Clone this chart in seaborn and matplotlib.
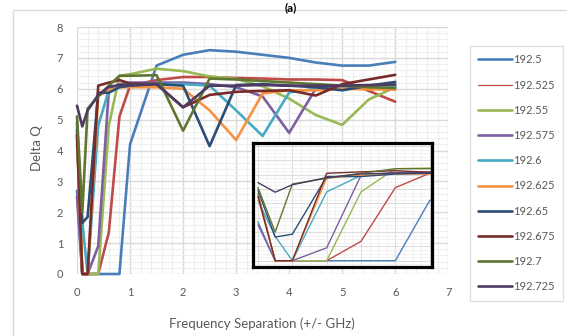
import numpy as np
import pandas as pd
import matplotlib
matplotlib.use("Agg")
import matplotlib.pyplot as plt
import seaborn as sns
from matplotlib.lines import Line2D
from matplotlib.patches import Rectangle
from matplotlib.ticker import MultipleLocator

# ---------------- data ----------------
sep = [0, 0.1, 0.2, 0.4, 0.6, 0.8, 1.0, 1.5, 2.0, 2.5, 3.0, 3.5, 4.0, 4.5, 5.0, 5.5, 6.0]
series_labels = ["192.5", "192.525", "192.55", "192.575", "192.6",
                 "192.625", "192.65", "192.675", "192.7", "192.725"]
q_192_5   = [2.7, 0, 0, 0, 0, 0, 4.2, 6.75, 7.1, 7.25, 7.2, 7.1, 7.0, 6.85, 6.75, 6.75, 6.87]
q_192_525 = [4.7, 0, 0, 0, 1.35, 5.1, 6.1, 6.28, 6.38, 6.38, 6.35, 6.33, 6.3, 6.3, 6.28, 5.93, 5.58]
q_192_55  = [4.6, 0, 0, 0, 4.8, 6.42, 6.47, 6.65, 6.57, 6.4, 6.32, 6.08, 5.68, 5.15, 4.83, 5.65, 6.05]
q_192_575 = [2.5, 0, 0, 0.9, 5.95, 6.15, 6.2, 6.2, 6.2, 6.15, 6.05, 5.75, 4.57, 6.0, 6.05, 6.05, 6.1]
q_192_6   = [4.2, 1.7, 0, 4.8, 5.95, 6.1, 6.15, 6.15, 6.15, 6.1, 5.3, 4.47, 5.88, 6.0, 6.0, 6.05, 6.05]
q_192_625 = [4.4, 0, 0, 5.77, 5.95, 6.05, 6.05, 6.05, 6.0, 5.3, 4.34, 5.85, 5.95, 5.95, 6.0, 5.98, 5.97]
q_192_65  = [4.9, 1.65, 1.85, 5.87, 5.87, 6.05, 6.1, 6.15, 6.1, 4.14, 6.12, 6.15, 6.1, 6.05, 5.95, 6.1, 6.22]
q_192_675 = [4.5, 0, 0, 6.1, 6.2, 6.28, 6.17, 6.15, 5.4, 5.8, 5.9, 5.93, 5.95, 5.78, 6.15, 6.3, 6.45]
q_192_7   = [5.1, 2.0, 5.35, 5.75, 6.1, 6.42, 6.42, 6.44, 4.64, 6.33, 6.3, 6.25, 6.2, 6.15, 6.1, 6.05, 6.02]
q_192_725 = [5.45, 4.78, 5.3, 5.8, 6.06, 6.12, 6.13, 6.15, 5.4, 6.1, 6.1, 6.12, 6.1, 6.1, 6.1, 6.12, 6.14]

series_values = [q_192_5, q_192_525, q_192_55, q_192_575, q_192_6,
                 q_192_625, q_192_65, q_192_675, q_192_7, q_192_725]
colors = ["#4A7EBB", "#BE4B48", "#98B954", "#7D60A0", "#46AAC5",
          "#F69240", "#2C4D75", "#772C2A", "#5F7530", "#4D3B62"]

x_ticks = [0, 1, 2, 3, 4, 5, 6, 7]
y_ticks = [0, 1, 2, 3, 4, 5, 6, 7, 8]

rows = []
for lab, vals in zip(series_labels, series_values):
    for xv, yv in zip(sep, vals):
        rows.append((lab, xv, yv))
df = pd.DataFrame(rows, columns=["series", "sep", "q"])

# ---------------- style ----------------
sns.set_style("white")
plt.rcParams['font.family'] = ['Lato', 'DejaVu Sans']
txt_col = "#595959"
W, H = 567, 336

fig = plt.figure(figsize=(W / 100, H / 100), dpi=100)

# outer chart-area border
fig.patches.append(Rectangle((13 / W, -0.2), 1.3, 1 - 10 / H + 0.2,
                             transform=fig.transFigure, fill=False,
                             ec="#d9d9d9", lw=1.0))

# title at the very top
fig.text(291 / W, 1 - 2 / H, "(a)", ha="center", va="top",
         fontsize=8.5, fontweight="bold", color="#000000")

# ---------------- main axes ----------------
L, R, T, B = 77, 448.3, 27, 274
ax = fig.add_axes([L / W, 1 - B / H, (R - L) / W, (B - T) / H])
sns.lineplot(data=df, x="sep", y="q", hue="series", hue_order=series_labels,
             palette=colors, estimator=None, sort=False, lw=1.9,
             ax=ax, legend=False)
for ln in ax.lines:
    ln.set_clip_on(False)
    ln.set_solid_joinstyle("round")

ax.set_xlim(0, 7)
ax.set_ylim(0, 8)
ax.set_xticks(x_ticks)
ax.set_yticks(y_ticks)
ax.xaxis.set_minor_locator(MultipleLocator(0.2))
ax.yaxis.set_minor_locator(MultipleLocator(0.2))
ax.grid(which="major", color="#d9d9d9", lw=1.0)
ax.grid(which="minor", color="#efefef", lw=0.8)
ax.set_axisbelow(True)
for s in ax.spines.values():
    s.set_visible(False)
ax.tick_params(which="both", length=0)
ax.tick_params(axis="x", pad=9, labelsize=8, labelcolor=txt_col)
ax.tick_params(axis="y", pad=10, labelsize=8, labelcolor=txt_col)
ax.set_xlabel("Frequency Separation (+/- GHz)", fontsize=9.5, color=txt_col)
ax.set_ylabel("Delta Q", fontsize=9.5, color=txt_col)
ax.xaxis.set_label_coords((262 - L) / (R - L), (B - 317) / (B - T))
ax.yaxis.set_label_coords((43 - L) / (R - L), (B - 148) / (B - T))

# ---------------- legend ----------------
handles = []
for lab, c in zip(series_labels, colors):
    handles.append(Line2D([0], [0], color=c, lw=(0.9 if lab == "192.525" else 1.9)))
leg = fig.legend(handles, series_labels, loc="upper left",
                 bbox_to_anchor=(470 / W, 1 - 46 / H), bbox_transform=fig.transFigure,
                 fontsize=8, frameon=True, fancybox=False, borderaxespad=0,
                 handlelength=3.0, handletextpad=0.15, labelspacing=1.28,
                 borderpad=0.75, labelcolor=txt_col)
leg.get_frame().set_edgecolor("#d9d9d9")
leg.get_frame().set_linewidth(1.0)

# ---------------- inset (zoom of 0 - 1 GHz) ----------------
ix0, ix1, iy0, iy1 = 253.2, 432.5, 143.2, 266.8
axi = fig.add_axes([ix0 / W, 1 - iy1 / H, (ix1 - ix0) / W, (iy1 - iy0) / H])
axi.set_facecolor("white")
sns.lineplot(data=df, x="sep", y="q", hue="series", hue_order=series_labels,
             palette=colors, estimator=None, sort=False, lw=1.0,
             ax=axi, legend=False)
px_per_x = 171.7
px_per_y = 14.33
axi.set_xlim((ix0 - 258) / px_per_x, (ix1 - 258) / px_per_x)
axi.set_ylim(-(iy1 - 260.7) / px_per_y, (260.7 - iy0) / px_per_y)
axi.xaxis.set_major_locator(MultipleLocator(0.2))
axi.xaxis.set_minor_locator(MultipleLocator(0.05))
axi.yaxis.set_major_locator(MultipleLocator(1))
axi.yaxis.set_minor_locator(MultipleLocator(0.25))
axi.grid(which="major", color="#dcdcdc", lw=0.8)
axi.grid(which="minor", color="#f0f0f0", lw=0.6)
axi.set_axisbelow(True)
axi.tick_params(which="both", length=0, labelbottom=False, labelleft=False)
axi.set_xlabel("")
axi.set_ylabel("")
for s in axi.spines.values():
    s.set_visible(True)
    s.set_color("black")
    s.set_linewidth(2.3)

fig.savefig("out.png", dpi=100)
